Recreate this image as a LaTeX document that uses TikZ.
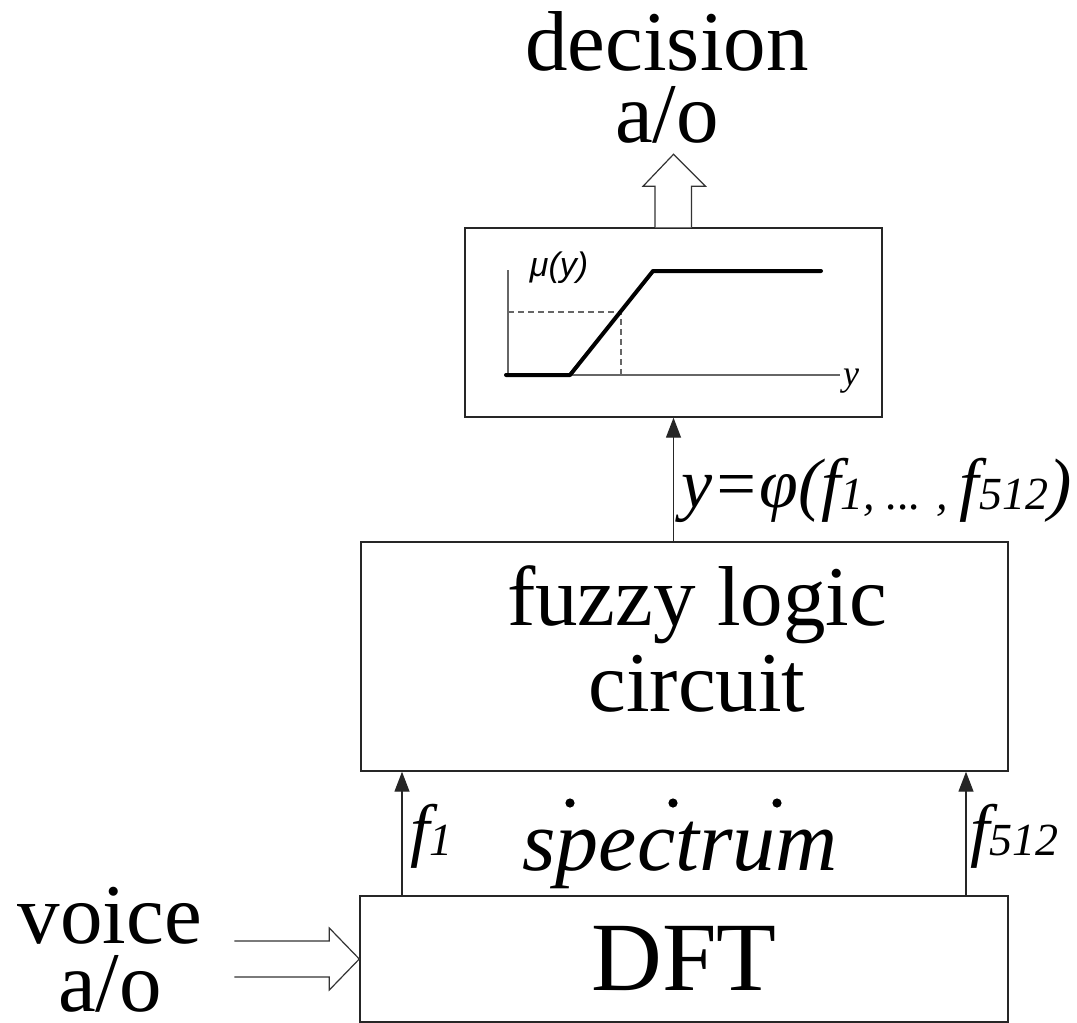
\documentclass[tikz,border=0pt]{standalone}
\usepackage{fontspec}
\setmainfont{Liberation Serif}
\setsansfont{Liberation Sans}
\usetikzlibrary{arrows.meta}
\newcommand\subdig[1]{\raisebox{-2pt}{\fontsize{46}{46}\selectfont #1}}
\begin{document}
\begin{tikzpicture}[x=1pt,y=-1pt,
  box/.style={draw=black!85,line width=1.4pt,inner sep=0pt},
  arr/.style={draw=black!85,line width=1.3pt,-{Triangle[length=20pt,width=15pt]}},
  hollow/.style={draw=black!80,line width=1.2pt,fill=white,line join=miter},
  big/.style={font=\fontsize{85}{72}\selectfont,inner sep=0pt,align=center},
  lab/.style={font=\itshape\fontsize{70}{70}\selectfont,inner sep=0pt},
  axisline/.style={draw=black!60,line width=1.2pt},
  dashline/.style={draw=black!60,line width=1.1pt,dash pattern=on 6pt off 4pt},
  curve/.style={line width=4pt,line cap=round,line join=round}
]
\useasboundingbox (0,0) rectangle (1077,1023);

% boxes
\node[box,minimum width=417pt,minimum height=189pt] (plot) at (673.5,322.5) {};
\node[box,minimum width=647pt,minimum height=229pt] (fuzzy) at (684.5,656.5) {};
\node[box,minimum width=648pt,minimum height=126pt,font=\fontsize{98}{98}\selectfont] (dft) at (684,959) {DFT};

% texts
\node[big] (fuzzytxt) at (697,639) {fuzzy logic\\[11pt]circuit};
\node[big] (decision) at (667,77) {decision\\a/o};
\node[big] (voice) at (110,950) {voice\\[-4pt]a/o};
\node[font=\itshape\fontsize{86}{86}\selectfont,inner sep=0pt,anchor=base] (spectrum) at (680,870) {spectrum};

% dots
\fill (570,803) circle (4.6pt);
\fill (673,803) circle (4.6pt);
\fill (777,803) circle (4.6pt);

% plot inside the top box
\draw[axisline] (508,270) -- (508,375) -- (840,375);
\draw[dashline] (508,312) -- (621,312) -- (621,375);
\draw[curve] (506,375) -- (570,375) -- (653,271) -- (821,271);
\node[font=\sffamily\itshape\fontsize{34}{34}\selectfont,inner sep=0pt] (mu) at (559,268) {μ(y)};
\node[font=\itshape\fontsize{36}{36}\selectfont,inner sep=0pt] (ylab) at (851,381) {y};

% output hollow arrow
\draw[hollow] (plot.north) ++(-18.5,0) -- ++(0,-41) -- ++(-12,0) -- ++(30.5,-32) -- ++(32,32) -- ++(-14,0) -- ++(0,41);

% input hollow arrow
\draw[hollow] (dft.west) ++(-125,-18) -- ++(95,0) -- ++(0,-13) -- ++(30,31) -- ++(-30,31) -- ++(0,-13) -- ++(-95,0);

% spectrum arrows
\coordinate (c1) at (402,0);
\coordinate (c2) at (966,0);
\draw[arr] (c1 |- dft.north) -- (c1 |- fuzzy.south);
\draw[arr] (c2 |- dft.north) -- (c2 |- fuzzy.south);
\draw[arr] (plot.south |- fuzzy.north) -- (plot.south);

% labels
\node[lab,anchor=base west] (lf1) at (410,853) {f\subdig{1}};
\node[lab,anchor=base west] (lf512) at (970,853) {f\subdig{512}};
\node[lab,anchor=base west] (lphi) at (681,507) {y=φ(f\subdig{1, ... , }f\subdig{512})};
\end{tikzpicture}
\end{document}
